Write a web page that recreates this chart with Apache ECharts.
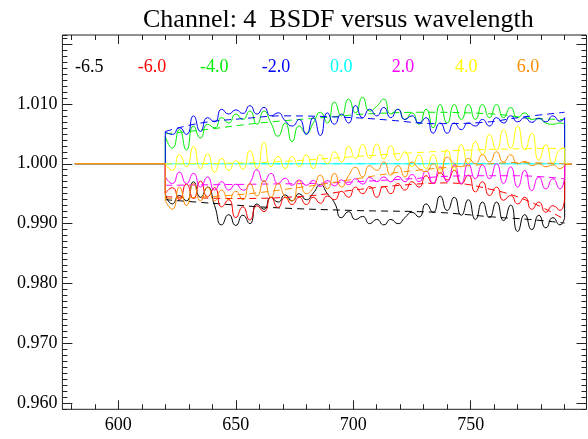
<!DOCTYPE html>
<html><head><meta charset="utf-8">
<script src="https://cdn.jsdelivr.net/npm/echarts@6/dist/echarts.min.js"></script>
<style>html,body{margin:0;padding:0;background:#fff}#c{width:588px;height:439px}</style>
</head><body><div id="c"></div>
<script>
// ---------------- data ----------------
const wavelength = [620,623,626,629,632,635,638,641,644,647,650,653,656,659,662,665,668,671,674,677,680,683,686,689,692,695,698,701,704,707,710,713,716,719,722,725,728,731,734,737,740,743,746,749,752,755,758,761,764,767,770,773,776,779,782,785,788,790];
const seriesNames = ['-6.5','-6.0','-4.0','-2.0','0.0','2.0','4.0','6.0'];
const flatStart = 581.5, flatEnd = 793, baseline = 1.0;

const bsdfM65 = [0.9950,0.9933,0.9947,0.9938,0.9970,0.9944,0.9961,0.9930,0.9898,0.9915,0.9897,0.9914,0.9900,0.9933,0.9924,0.9944,0.9936,0.9948,0.9938,0.9950,0.9940,0.9951,0.9965,0.9950,0.9935,0.9910,0.9920,0.9907,0.9912,0.9900,0.9907,0.9898,0.9907,0.9900,0.9910,0.9919,0.9911,0.9933,0.9919,0.9946,0.9922,0.9944,0.9914,0.9940,0.9907,0.9936,0.9910,0.9936,0.9905,0.9931,0.9887,0.9915,0.9890,0.9914,0.9893,0.9910,0.9898,0.9910];
const bsdfM60 = [0.9950,0.9960,0.9940,0.9966,0.9942,0.9971,0.9945,0.9960,0.9928,0.9940,0.9910,0.9928,0.9906,0.9930,0.9920,0.9944,0.9927,0.9944,0.9932,0.9944,0.9932,0.9944,0.9934,0.9946,0.9940,0.9954,0.9944,0.9961,0.9950,0.9962,0.9944,0.9962,0.9950,0.9967,0.9956,0.9970,0.9961,0.9980,0.9967,0.9985,0.9973,0.9989,0.9966,0.9981,0.9953,0.9970,0.9947,0.9961,0.9939,0.9947,0.9933,0.9944,0.9924,0.9936,0.9919,0.9930,0.9922,0.9944];
const bsdfM40 = [1.0046,1.0026,1.0057,1.0023,1.0063,1.0043,1.0066,1.0060,1.0077,1.0068,1.0083,1.0074,1.0088,1.0066,1.0088,1.0068,1.0046,1.0068,1.0037,1.0063,1.0051,1.0068,1.0086,1.0068,1.0103,1.0080,1.0108,1.0085,1.0111,1.0088,1.0096,1.0108,1.0083,1.0091,1.0074,1.0085,1.0066,1.0091,1.0060,1.0099,1.0068,1.0099,1.0074,1.0099,1.0074,1.0099,1.0077,1.0099,1.0077,1.0094,1.0077,1.0085,1.0074,1.0076,1.0068,1.0066,1.0068,1.0066];
const bsdfM20 = [1.0054,1.0049,1.0060,1.0049,1.0080,1.0054,1.0077,1.0070,1.0091,1.0083,1.0090,1.0084,1.0097,1.0083,1.0094,1.0080,1.0085,1.0072,1.0063,1.0074,1.0049,1.0077,1.0047,1.0085,1.0066,1.0083,1.0068,1.0097,1.0077,1.0091,1.0080,1.0094,1.0077,1.0091,1.0074,1.0080,1.0068,1.0077,1.0051,1.0068,1.0051,1.0068,1.0057,1.0068,1.0063,1.0074,1.0063,1.0077,1.0068,1.0080,1.0070,1.0077,1.0069,1.0076,1.0070,1.0080,1.0071,1.0077];
const bsdfP00 = [1.0000,1.0000,1.0000,1.0000,1.0000,1.0000,1.0000,1.0000,1.0000,1.0000,1.0000,1.0000,1.0000,1.0000,1.0000,1.0000,1.0000,1.0000,1.0000,1.0000,1.0000,1.0000,1.0000,1.0000,1.0000,1.0000,1.0000,1.0000,1.0000,1.0000,1.0000,1.0000,1.0000,1.0000,1.0000,1.0000,1.0000,1.0000,1.0000,1.0000,1.0000,1.0000,1.0000,1.0000,1.0000,1.0000,1.0000,1.0000,1.0000,1.0000,1.0000,1.0000,1.0000,1.0000,1.0000,1.0000,1.0000,1.0000];
const bsdfP20 = [0.9978,0.9967,0.9986,0.9967,0.9984,0.9961,0.9978,0.9956,0.9970,0.9956,0.9966,0.9956,0.9968,0.9990,0.9970,0.9984,0.9967,0.9976,0.9964,0.9973,0.9964,0.9972,0.9962,0.9972,0.9963,0.9973,0.9965,0.9975,0.9966,0.9977,0.9970,0.9978,0.9970,0.9979,0.9970,0.9982,0.9970,0.9988,0.9967,0.9995,0.9970,0.9998,0.9967,1.0000,0.9975,0.9998,0.9975,1.0000,0.9967,0.9995,0.9961,0.9989,0.9955,0.9978,0.9958,0.9975,0.9958,0.9978];
const bsdfP40 = [1.0000,0.9989,1.0015,0.9995,1.0029,0.9992,1.0017,0.9986,1.0009,0.9989,1.0005,0.9991,1.0022,0.9992,1.0036,0.9995,1.0012,0.9992,1.0012,0.9995,1.0015,0.9992,1.0015,1.0000,1.0020,1.0003,1.0029,1.0009,1.0032,1.0009,1.0033,1.0008,1.0030,1.0006,1.0020,0.9995,1.0015,0.9992,1.0015,0.9989,1.0023,0.9989,1.0032,1.0000,1.0037,1.0015,1.0049,1.0023,1.0057,1.0026,1.0063,1.0023,1.0051,1.0006,1.0032,1.0000,1.0024,1.0026];
const bsdfP60 = [0.9938,0.9924,0.9961,0.9930,0.9967,0.9938,0.9961,0.9938,0.9956,0.9940,0.9954,0.9940,0.9967,0.9946,0.9972,0.9944,0.9967,0.9945,0.9938,0.9972,0.9950,0.9960,0.9981,0.9958,0.9984,0.9961,0.9980,0.9994,0.9978,0.9997,0.9989,1.0003,0.9981,0.9997,0.9978,1.0003,0.9992,0.9987,1.0000,0.9984,1.0011,1.0000,0.9995,1.0009,1.0000,1.0015,1.0003,1.0020,1.0003,1.0015,1.0000,1.0004,0.9997,1.0000,0.9995,0.9998,0.9992,0.9998];

const fitM65 = [[620,0.9940],[640,0.9934],[665,0.9927],[700,0.9922],[735,0.9919],[760,0.9911],[775,0.9907],[790,0.9901]];
const fitM60 = [[620,0.9945],[650,0.9942],[680,0.9946],[700,0.9956],[720,0.9964],[740,0.9968],[760,0.9956],[775,0.9937],[790,0.9907]];
const fitM40 = [[620,1.0050],[637,1.0057],[660,1.0068],[690,1.0078],[705,1.0083],[730,1.0086],[760,1.0083],[775,1.0076],[790,1.0074]];
const fitM20 = [[620,1.0054],[635,1.0068],[655,1.0076],[670,1.0080],[700,1.0077],[715,1.0073],[735,1.0067],[755,1.0069],[772,1.0078],[790,1.0086]];
const fitP00 = [[620,1.0000],[790,1.0000]];
const fitP20 = [[620,0.9964],[660,0.9966],[690,0.9968],[720,0.9974],[750,0.9980],[770,0.9980],[790,0.9975]];
const fitP40 = [[620,1.0000],[660,1.0002],[690,1.0009],[720,1.0017],[750,1.0023],[770,1.0025],[790,1.0026]];
const fitP60 = [[620,0.9942],[650,0.9948],[680,0.9962],[700,0.9974],[720,0.9986],[750,0.9997],[770,1.0002],[790,1.0000]];

// ---------------- styling ----------------
const colors = ['#000000','#ff0000','#00ee00','#0000ff','#00ffff','#ff00ff','#ffff00','#ff8c00'];
const allValues = [bsdfM65,bsdfM60,bsdfM40,bsdfM20,bsdfP00,bsdfP20,bsdfP40,bsdfP60];
const allFits = [fitM65,fitM60,fitM40,fitM20,fitP00,fitP20,fitP40,fitP60];
const FONT = '"Liberation Serif", "Times New Roman", serif';
const legendLeft = [75, 137.7, 200, 261.7, 330, 391.7, 455, 516.7];
const axisColor = '#222';

const series = [];
allValues.forEach((vals, i) => {
  const c = colors[i];
  const n = vals.length;
  const base = {type:'line', xAxisIndex:0, yAxisIndex:0, showSymbol:false, symbol:'none', silent:true, animation:false};
  series.push(Object.assign({}, base, {
    data: [[flatStart, baseline],[wavelength[0], baseline],[wavelength[0], vals[0]]],
    lineStyle:{color:c, width:1}
  }));
  series.push(Object.assign({}, base, {
    data: wavelength.map((w,k)=>[w, vals[k]]),
    smooth: 0.6,
    lineStyle:{color:c, width:1}
  }));
  series.push(Object.assign({}, base, {
    data: [[wavelength[n-1], vals[n-1]],[wavelength[n-1], baseline],[flatEnd, baseline]],
    lineStyle:{color:c, width:1}
  }));
  series.push(Object.assign({}, base, {
    data: allFits[i],
    smooth: 0.4,
    lineStyle:{color:c, width:1, type:[7,5]}
  }));
});

const hidden = {show:false};
const option = {
  backgroundColor:'#fff',
  animation:false,
  title:{text:'Channel: 4  BSDF versus wavelength', left:138, top:2,
         textStyle:{fontFamily:FONT, fontSize:26, fontWeight:'normal', color:'#000'}},
  grid:[
    {left:62.4, right:1.5, top:35, bottom:29.7, show:true, borderColor:axisColor, borderWidth:1, backgroundColor:'transparent'},
    {left:62.4, right:1.5, top:43.98, bottom:35.69},
    {left:71.33, right:23.34, top:35, bottom:29.7},
    {left:118.31, right:117.31, top:35, bottom:29.7}
  ],
  xAxis:[
    {gridIndex:0, type:'value', min:576.2, max:799.3, axisLine:hidden, axisTick:hidden, axisLabel:hidden, splitLine:hidden},
    {gridIndex:1, type:'value', show:false, min:0, max:1},
    {gridIndex:2, type:'value', position:'bottom', min:580, max:790, interval:10, axisLine:hidden,
      axisTick:{inside:true, length:5, lineStyle:{color:axisColor}}, axisLabel:hidden, splitLine:hidden},
    {gridIndex:2, type:'value', position:'top', min:580, max:790, interval:10, axisLine:hidden,
      axisTick:{inside:true, length:5, lineStyle:{color:axisColor}}, axisLabel:hidden, splitLine:hidden},
    {gridIndex:3, type:'value', position:'bottom', min:600, max:750, interval:50, axisLine:hidden,
      axisTick:{inside:true, length:9, lineStyle:{color:axisColor}},
      axisLabel:{margin:7, fontFamily:FONT, fontSize:18, color:'#000'}, splitLine:hidden},
    {gridIndex:3, type:'value', position:'top', min:600, max:750, interval:50, axisLine:hidden,
      axisTick:{inside:true, length:9, lineStyle:{color:axisColor}}, axisLabel:hidden, splitLine:hidden}
  ],
  yAxis:[
    {gridIndex:0, type:'value', position:'left', min:0.959, max:1.0215, interval:0.001, axisLine:hidden,
      axisTick:{inside:true, length:5, lineStyle:{color:axisColor}}, axisLabel:hidden, splitLine:hidden},
    {gridIndex:0, type:'value', position:'right', min:0.959, max:1.0215, interval:0.001, axisLine:hidden,
      axisTick:{inside:true, length:5, lineStyle:{color:axisColor}}, axisLabel:hidden, splitLine:hidden},
    {gridIndex:1, type:'value', position:'left', min:0.96, max:1.02, interval:0.01, axisLine:hidden,
      axisTick:{inside:true, length:10, lineStyle:{color:axisColor}},
      axisLabel:{margin:5, fontFamily:FONT, fontSize:18, color:'#000',
        formatter:v => v > 1.015 ? '' : v.toFixed(3)}, splitLine:hidden},
    {gridIndex:1, type:'value', position:'right', min:0.96, max:1.02, interval:0.01, axisLine:hidden,
      axisTick:{inside:true, length:10, lineStyle:{color:axisColor}}, axisLabel:hidden, splitLine:hidden},
    {gridIndex:2, type:'value', show:false, min:0, max:1},
    {gridIndex:3, type:'value', show:false, min:0, max:1}
  ],
  graphic: seriesNames.map((name,i)=>({
    type:'text', left:legendLeft[i], top:58, silent:true,
    style:{text:name, fill:colors[i], font:'18px ' + FONT}
  })),
  series: series
};
const chart = echarts.init(document.getElementById('c'), null, {renderer:'canvas'});
chart.setOption(option);
</script>
</body></html>
